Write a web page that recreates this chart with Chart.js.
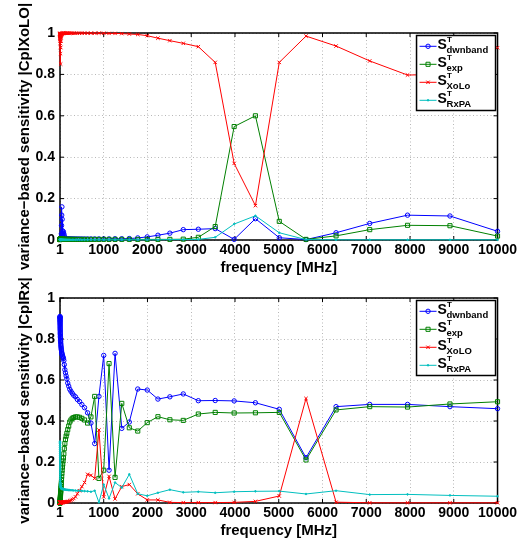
<!DOCTYPE html>
<html>
<head>
<meta charset="utf-8">
<script src="https://cdn.jsdelivr.net/npm/chart.js@4.4.0/dist/chart.umd.min.js"></script>
<style>
  html, body { margin: 0; padding: 0; background: #fff; }
  #wrap { position: relative; width: 519px; height: 545px; overflow: hidden; }
  canvas { position: absolute; left: 0; top: 0; }
</style>
</head>
<body>
<div id="wrap">
  <canvas id="topChart" width="519" height="545"></canvas>
  <canvas id="bottomChart" width="519" height="545"></canvas>
</div>
<script>
// frequency sweep [MHz]
const freqMHz = [
  1, 1.12, 1.26, 1.41, 1.58, 1.78, 2, 2.24, 2.51, 2.82,
  3.16, 3.55, 3.98, 4.47, 5.01, 5.62, 6.31, 7.08, 7.94, 8.91,
  10, 11.2, 12.6, 14.1, 15.8, 17.8, 20, 22.4, 25.1, 28.2,
  31.6, 35.5, 39.8, 44.7, 50.1, 56.2, 63.1, 70.8, 79.4, 89.1,
  100, 112, 126, 141, 158, 178, 200, 224, 251, 282,
  316, 355, 398, 447, 501, 562, 631, 708, 794, 891,
  1000, 1122, 1259, 1413, 1585, 1778, 1995, 2239, 2512, 2818,
  3162, 3548, 3981, 4467, 5012, 5623, 6310, 7079, 7943, 8913,
  10000
];

const xTicks = [1, 1000, 2000, 3000, 4000, 5000, 6000, 7000, 8000, 9000, 10000];
const yTicks = [0, 0.2, 0.4, 0.6, 0.8, 1];
const yTickLabels = ['0', '0.2', '0.4', '0.6', '0.8', '1'];

// top plot: |CplXoLO|
const xoloDwnband = [
  0.004, 0.004, 0.003, 0.004, 0.004, 0.003, 0.004, 0.004, 0.004, 0.003,
  0.004, 0.004, 0.004, 0.004, 0.005, 0.004, 0.004, 0.004, 0.005, 0.005,
  0.005, 0.005, 0.005, 0.006, 0.006, 0.006, 0.007, 0.008, 0.01, 0.015,
  0.03, 0.07, 0.12, 0.16, 0.1, 0.045, 0.03, 0.035, 0.04, 0.03,
  0.02, 0.01, 0.006, 0.005, 0.005, 0.005, 0.005, 0.005, 0.005, 0.005,
  0.005, 0.005, 0.005, 0.005, 0.005, 0.005, 0.005, 0.005, 0.005, 0.005,
  0.005, 0.005, 0.006, 0.006, 0.007, 0.01, 0.015, 0.023, 0.033, 0.05,
  0.052, 0.055, 0.003, 0.103, 0.011, 0.002, 0.035, 0.08, 0.12, 0.116,
  0.042
];
const xoloExp = [
  0.002, 0.002, 0.003, 0.003, 0.003, 0.003, 0.003, 0.003, 0.003, 0.003,
  0.003, 0.003, 0.003, 0.003, 0.003, 0.003, 0.003, 0.003, 0.003, 0.003,
  0.003, 0.003, 0.003, 0.003, 0.003, 0.003, 0.003, 0.003, 0.003, 0.003,
  0.003, 0.003, 0.003, 0.003, 0.003, 0.003, 0.003, 0.003, 0.003, 0.003,
  0.003, 0.003, 0.003, 0.003, 0.003, 0.003, 0.003, 0.003, 0.003, 0.003,
  0.003, 0.003, 0.003, 0.003, 0.003, 0.003, 0.003, 0.003, 0.003, 0.003,
  0.003, 0.003, 0.003, 0.003, 0.003, 0.003, 0.003, 0.003, 0.003, 0.004,
  0.013, 0.065, 0.548, 0.6, 0.09, 0.003, 0.02, 0.05, 0.071, 0.069,
  0.019
];
const xoloXoLo = [
  0.998, 0.995, 0.99, 0.997, 0.985, 0.993, 0.98, 0.996, 0.99, 0.975,
  0.995, 0.97, 0.99, 0.96, 0.985, 0.995, 0.95, 0.98, 0.995, 0.93,
  0.97, 0.99, 0.9, 0.96, 0.85, 0.93, 0.98, 0.96, 0.99, 0.985,
  0.995, 0.99, 0.997, 0.995, 0.998, 0.997, 0.999, 0.998, 0.999, 0.999,
  0.999, 0.999, 0.999, 0.999, 0.999, 0.999, 0.999, 0.999, 0.999, 0.999,
  0.999, 0.999, 0.999, 0.999, 0.999, 0.999, 0.999, 0.999, 0.999, 0.999,
  0.999, 0.998, 0.998, 0.997, 0.995, 0.993, 0.987, 0.975, 0.963, 0.95,
  0.934, 0.858, 0.37, 0.166, 0.858, 0.985, 0.937, 0.865, 0.797, 0.8,
  0.929
];
const xoloRxPA = [
  0.001, 0.001, 0.001, 0.001, 0.001, 0.001, 0.001, 0.001, 0.001, 0.001,
  0.001, 0.001, 0.001, 0.001, 0.001, 0.001, 0.001, 0.001, 0.001, 0.001,
  0.001, 0.001, 0.001, 0.001, 0.001, 0.001, 0.001, 0.001, 0.001, 0.001,
  0.001, 0.001, 0.001, 0.001, 0.001, 0.001, 0.001, 0.001, 0.001, 0.001,
  0.001, 0.001, 0.001, 0.001, 0.001, 0.001, 0.001, 0.001, 0.001, 0.001,
  0.001, 0.001, 0.001, 0.001, 0.001, 0.001, 0.001, 0.001, 0.001, 0.001,
  0.001, 0.001, 0.001, 0.001, 0.001, 0.001, 0.001, 0.001, 0.002, 0.002,
  0.003, 0.013, 0.077, 0.117, 0.035, 0.002, 0.001, 0.001, 0.001, 0.001,
  0.001
];

// bottom plot: |CplRx|
const rxDwnband = [
  0.91, 0.908, 0.905, 0.903, 0.9, 0.896, 0.892, 0.888, 0.884, 0.879,
  0.874, 0.869, 0.863, 0.857, 0.851, 0.845, 0.839, 0.832, 0.826, 0.82,
  0.813, 0.806, 0.8, 0.793, 0.787, 0.78, 0.773, 0.766, 0.76, 0.754,
  0.748, 0.742, 0.736, 0.73, 0.725, 0.72, 0.715, 0.71, 0.705, 0.695,
  0.675, 0.65, 0.635, 0.62, 0.605, 0.585, 0.57, 0.555, 0.545, 0.535,
  0.525, 0.518, 0.505, 0.495, 0.48, 0.465, 0.44, 0.39, 0.29, 0.52,
  0.72, 0.16, 0.73, 0.364, 0.395, 0.556, 0.551, 0.507, 0.518, 0.532,
  0.499, 0.5, 0.498, 0.489, 0.457, 0.221, 0.47, 0.481, 0.481, 0.47,
  0.46
];
const rxExp = [
  0, 0, 0.001, 0.001, 0.001, 0.002, 0.002, 0.003, 0.003, 0.004,
  0.005, 0.006, 0.007, 0.009, 0.011, 0.013, 0.016, 0.019, 0.022, 0.026,
  0.03, 0.035, 0.04, 0.046, 0.052, 0.058, 0.065, 0.073, 0.081, 0.09,
  0.1, 0.115, 0.13, 0.145, 0.16, 0.175, 0.19, 0.205, 0.22, 0.24,
  0.265, 0.29, 0.31, 0.326, 0.34, 0.358, 0.375, 0.395, 0.405, 0.413,
  0.417, 0.42, 0.42, 0.418, 0.413, 0.405, 0.39, 0.42, 0.52, 0.12,
  0.16, 0.68, 0.125, 0.486, 0.367, 0.351, 0.392, 0.421, 0.406, 0.403,
  0.434, 0.442, 0.439, 0.44, 0.442, 0.21, 0.454, 0.47, 0.468, 0.483,
  0.494
];
const rxXoLO = [
  0.002, 0.001, 0.002, 0.001, 0.002, 0.001, 0.002, 0.002, 0.001, 0.002,
  0.002, 0.002, 0.002, 0.002, 0.002, 0.002, 0.002, 0.002, 0.002, 0.002,
  0.002, 0.002, 0.002, 0.002, 0.002, 0.002, 0.002, 0.003, 0.003, 0.003,
  0.003, 0.003, 0.003, 0.003, 0.003, 0.003, 0.003, 0.003, 0.004, 0.004,
  0.004, 0.004, 0.005, 0.005, 0.006, 0.007, 0.008, 0.01, 0.013, 0.017,
  0.022, 0.03, 0.045, 0.06, 0.08, 0.1, 0.14, 0.135, 0.12, 0.356,
  0.03, 0.13, 0.02, 0.08, 0.09, 0.045, 0.015, 0.015, 0.003, 0.002,
  0.002, 0.002, 0.003, 0.008, 0.034, 0.51, 0.004, 0.001, 0.001, 0.001,
  0.001
];
const rxRxPA = [
  0.3, 0.295, 0.29, 0.28, 0.27, 0.26, 0.25, 0.24, 0.23, 0.22,
  0.21, 0.2, 0.19, 0.18, 0.17, 0.16, 0.15, 0.14, 0.13, 0.12,
  0.11, 0.1, 0.095, 0.09, 0.085, 0.08, 0.078, 0.075, 0.073, 0.072,
  0.071, 0.07, 0.07, 0.07, 0.069, 0.069, 0.068, 0.068, 0.067, 0.067,
  0.066, 0.066, 0.065, 0.065, 0.064, 0.064, 0.063, 0.063, 0.062, 0.062,
  0.061, 0.061, 0.06, 0.06, 0.059, 0.058, 0.057, 0.055, 0.06, 0.003,
  0.09, 0.022, 0.1, 0.075, 0.14, 0.045, 0.035, 0.05, 0.065, 0.052,
  0.055, 0.05, 0.055, 0.057, 0.058, 0.044, 0.06, 0.041, 0.042, 0.037,
  0.033
];

const topSubs = ['dwnband', 'exp', 'XoLo', 'RxPA'];
const bottomSubs = ['dwnband', 'exp', 'XoLO', 'RxPA'];

// matlab-ish line specs: o, s, x, .
const seriesStyle = [
  { color: '#0000ff', pointStyle: 'circle', radius: 2.2, fill: false, order: 3 },
  { color: '#008000', pointStyle: 'rect', radius: 2.9, fill: false, order: 2 },
  { color: '#ff0000', pointStyle: 'crossRot', radius: 2.4, fill: false, order: 1 },
  { color: '#00bfbf', pointStyle: 'circle', radius: 0.8, fill: true, order: 0 }
];

const FONT = "'Liberation Sans', Arial, Helvetica, sans-serif";
Chart.defaults.font.family = FONT;
Chart.defaults.color = '#000';

function drawMarker(ctx, st, x, y) {
  ctx.strokeStyle = st.color;
  ctx.fillStyle = st.fill ? st.color : 'rgba(0,0,0,0)';
  ctx.lineWidth = 1;
  Chart.helpers.drawPoint(ctx, { pointStyle: st.pointStyle, radius: st.radius, borderWidth: 1, rotation: 0 }, x, y);
}

// box, inward ticks, axis titles and the legend with sub/superscripts
const framePlugin = {
  id: 'frame',
  beforeDatasetsDraw(chart) {
    const { ctx, chartArea: a, scales } = chart;
    ctx.save();
    ctx.strokeStyle = '#000';
    ctx.lineWidth = 1.5;
    ctx.strokeRect(a.left, a.top, a.right - a.left, a.bottom - a.top);
    ctx.lineWidth = 1;
    ctx.beginPath();
    scales.x.ticks.forEach(t => {
      const x = scales.x.getPixelForValue(t.value);
      ctx.moveTo(x, a.bottom); ctx.lineTo(x, a.bottom - 4);
      ctx.moveTo(x, a.top); ctx.lineTo(x, a.top + 4);
    });
    scales.y.ticks.forEach(t => {
      const y = scales.y.getPixelForValue(t.value);
      ctx.moveTo(a.left, y); ctx.lineTo(a.left + 4, y);
      ctx.moveTo(a.right, y); ctx.lineTo(a.right - 4, y);
    });
    ctx.stroke();
    ctx.restore();
  },
  afterDatasetsDraw(chart, args, opts) {
    const { ctx, chartArea: a } = chart;
    const w = 79, h = 75;
    const left = a.right - 2 - w, top = a.top + 2.5;
    ctx.save();
    ctx.fillStyle = '#fff';
    ctx.fillRect(left, top, w, h);
    ctx.strokeStyle = '#000';
    ctx.lineWidth = 1.5;
    ctx.strokeRect(left, top, w, h);
    opts.subs.forEach((sub, i) => {
      const st = seriesStyle[i];
      const base = top + 13.8 + i * 18;
      const ly = base - 3;
      ctx.strokeStyle = st.color;
      ctx.lineWidth = 1;
      ctx.beginPath();
      ctx.moveTo(left + 3, ly); ctx.lineTo(left + 20, ly);
      ctx.stroke();
      drawMarker(ctx, st, left + 11.5, ly);
      ctx.fillStyle = '#000';
      ctx.textAlign = 'left';
      ctx.textBaseline = 'alphabetic';
      ctx.font = 'bold 14px ' + FONT;
      ctx.fillText('S', left + 21, base);
      ctx.font = 'bold 8px ' + FONT;
      ctx.fillText('T', left + 30.5, base - 7);
      ctx.font = 'bold 9.5px ' + FONT;
      ctx.fillText(sub, left + 30, base + 3.5);
    });
    ctx.restore();
  },
  afterDraw(chart, args, opts) {
    const { ctx, chartArea: a } = chart;
    ctx.save();
    ctx.fillStyle = '#000';
    ctx.font = 'bold 15px ' + FONT;
    ctx.textAlign = 'center';
    ctx.textBaseline = 'alphabetic';
    ctx.fillText('frequency [MHz]', (a.left + a.right) / 2, a.bottom + 32);
    ctx.translate(29, (a.top + a.bottom) / 2);
    ctx.rotate(-Math.PI / 2);
    ctx.fillText(opts.yTitle, 0, 0);
    ctx.restore();
  }
};

function buildDatasets(series, subs) {
  return series.map((vals, i) => {
    const st = seriesStyle[i];
    return {
      label: 'S_' + subs[i],
      data: freqMHz.map((f, k) => ({ x: f, y: vals[k] })),
      borderColor: st.color,
      backgroundColor: st.color,
      borderWidth: 1,
      pointStyle: st.pointStyle,
      pointRadius: st.radius,
      pointBorderWidth: 1,
      pointBorderColor: st.color,
      pointBackgroundColor: st.fill ? st.color : 'rgba(0,0,0,0)',
      order: st.order,
      clip: false,
      tension: 0
    };
  });
}

function makeChart(id, series, subs, yTitle, areaTop, areaBottom) {
  const tickFont = { size: 14, weight: 'bold', family: FONT };
  return new Chart(document.getElementById(id), {
    type: 'line',
    data: { datasets: buildDatasets(series, subs) },
    options: {
      responsive: false,
      animation: false,
      devicePixelRatio: 1,
      events: [],
      layout: { padding: { left: 0, right: 20, top: areaTop, bottom: 545 - areaBottom - 40 } },
      plugins: {
        legend: { display: false },
        tooltip: { enabled: false },
        frame: { subs: subs, yTitle: yTitle }
      },
      scales: {
        x: {
          type: 'linear',
          min: 1,
          max: 10000,
          afterBuildTicks: s => { s.ticks = xTicks.map(v => ({ value: v })); },
          afterFit: s => { s.height = 40; },
          ticks: { font: tickFont, color: '#000', padding: 2, maxRotation: 0, autoSkip: false, callback: v => String(v) },
          grid: { color: '#b8b8b8', lineWidth: 1, drawTicks: false },
          border: { display: false, dash: [1, 2.5] }
        },
        y: {
          min: 0,
          max: 1,
          afterBuildTicks: s => { s.ticks = yTicks.map(v => ({ value: v })); },
          afterFit: s => { s.width = 60; },
          ticks: { font: tickFont, color: '#000', padding: 5, callback: (v, i) => yTickLabels[i] },
          grid: { color: '#b8b8b8', lineWidth: 1, drawTicks: false },
          border: { display: false, dash: [1, 2.5] }
        }
      }
    },
    plugins: [framePlugin]
  });
}

makeChart('topChart', [xoloDwnband, xoloExp, xoloXoLo, xoloRxPA], topSubs,
  'variance\u2212based sensitivity |CplXoLO|', 33, 240);
makeChart('bottomChart', [rxDwnband, rxExp, rxXoLO, rxRxPA], bottomSubs,
  'variance\u2212based sensitivity |CplRx|', 298, 503);
</script>
</body>
</html>
